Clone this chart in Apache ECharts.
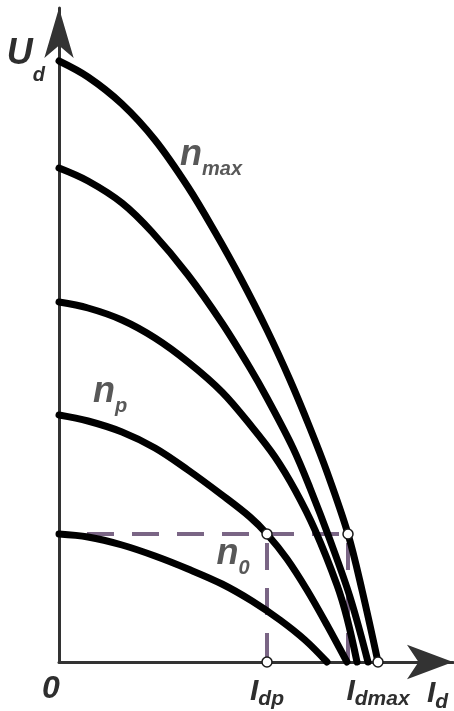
<!DOCTYPE html>
<html>
<head>
<meta charset="utf-8">
<script src="https://cdn.jsdelivr.net/npm/echarts@6/dist/echarts.min.js"></script>
<style>
  html, body { margin: 0; padding: 0; background: #fff; }
  #chart { width: 454px; height: 711px; }
</style>
</head>
<body>
<div id="chart"></div>
<script>
// curves U_d(I_d) (units: px from origin)
const nMaxX = [0, 29, 63, 96, 129, 156, 181, 208, 231, 251, 268, 289, 303, 319];
const nMaxY = [601, 585, 558, 522, 475, 430, 385, 332, 282, 234, 190, 128, 72, 0];
const n2X = [0, 29, 63, 93, 129, 163, 191, 208, 234, 251, 271, 291, 309];
const n2Y = [494, 481, 459, 430, 387, 339, 294, 264, 214, 174, 122, 65, 0];
const n3X = [0, 29, 63, 96, 129, 163, 193, 216, 236, 256, 278, 288, 298];
const n3Y = [360, 354, 342, 324, 300, 270, 235, 205, 172, 132, 77, 44, 0];
const nPX = [0, 29, 63, 96, 129, 163, 191, 208, 228, 248, 268, 288];
const nPY = [247, 241, 230, 214, 192, 167, 145, 128, 103, 72, 37, 0];
const n0X = [0, 29, 63, 96, 129, 163, 193, 221, 246, 268];
const n0Y = [128, 125, 117, 106, 93, 78, 61, 42, 22, 0];

// operating point
const Idp = 208;
const Idmax = 319;
const Up = 128;
const IcornerX = 289;

// x-axis tick labels
const xTicks = [0, Idp, Idmax];
const xTickNames = ['0', 'dp', 'dmax'];

// curve labels
const curveSubs = ['max', 'p', '0'];
const curveLabelX = [152, 51, 174];
const curveLabelY = [507, 270, 108];

const zip = (xs, ys) => xs.map((x, i) => [x, ys[i]]);

const font = { fontFamily: 'Liberation Sans', fontWeight: 'bold', fontStyle: 'italic', color: '#2e2e2e' };
// every token is top aligned; padTop pushes a subscript down
const tok = (size, lh, padTop, extra) => Object.assign({}, font, {
  fontSize: size, lineHeight: lh, verticalAlign: 'top', padding: [padTop || 0, 0, 0, 0]
}, extra || {});

const curveStyle = { color: '#000', width: 7, cap: 'round', join: 'round' };
const dashStyle = { color: '#7a6585', width: 4, type: [27, 18] };

function curve(name, xs, ys) {
  return {
    name: name, type: 'line', data: zip(xs, ys),
    smooth: 0.35, showSymbol: false, clip: false, silent: true,
    lineStyle: curveStyle, z: 3
  };
}

function dashed(pts, offset) {
  return {
    type: 'line', data: pts, showSymbol: false, clip: false, silent: true,
    lineStyle: Object.assign({}, dashStyle, { dashOffset: offset }), z: 2
  };
}

const chart = echarts.init(document.getElementById('chart'));
chart.setOption({
  animation: false,
  grid: { left: 59, right: 1, top: 8, bottom: 49, containLabel: false, outerBoundsMode: 'none' },
  xAxis: {
    type: 'value', min: 0, max: 394,
    splitLine: { show: false },
    axisTick: { show: false },
    axisLine: { lineStyle: { color: '#333', width: 3 }, symbol: ['none', 'arrow'], symbolSize: [26, 46] },
    axisLabel: {
      customValues: xTicks,
      margin: 11,
      formatter: function (v) {
        const i = xTicks.indexOf(v);
        if (i === 0) return '{z|0}';
        return '{I|I}{s|' + xTickNames[i] + '}';
      },
      rich: {
        z: Object.assign(tok(32, 30), { padding: [0, 16, 0, 0] }),
        I: tok(30, 30, 4),
        s: tok(21, 30, 16)
      }
    },
    name: '{I|I}{s|d}',
    nameLocation: 'end',
    nameGap: -26,
    nameTextStyle: {
      align: 'left', verticalAlign: 'top', padding: [17, 0, 0, 0],
      rich: { I: tok(30, 30), s: tok(21, 30, 13) }
    }
  },
  yAxis: {
    type: 'value', min: 0, max: 654,
    splitLine: { show: false },
    axisTick: { show: false },
    axisLabel: { show: false },
    axisLine: { lineStyle: { color: '#333', width: 3 }, symbol: ['none', 'arrow'], symbolSize: [22, 50] },
    name: '{U|U}{s|d}',
    nameLocation: 'end',
    nameGap: -28,
    nameTextStyle: {
      align: 'right', verticalAlign: 'top', padding: [0, 14, 0, 0],
      rich: { U: tok(36, 36), s: tok(20, 36, 29) }
    }
  },
  series: [
    dashed([[0, Up], [IcornerX, Up]], 17),
    dashed([[Idp, Up], [Idp, 0]], 36),
    dashed([[IcornerX, Up], [IcornerX, 0]], 36),
    curve('nmax', nMaxX, nMaxY),
    curve('n2', n2X, n2Y),
    curve('n3', n3X, n3Y),
    curve('np', nPX, nPY),
    curve('n0', n0X, n0Y),
    {
      type: 'scatter', silent: true, z: 5,
      data: [[Idp, Up], [IcornerX, Up], [Idp, 0], [Idmax, 0]],
      symbol: 'circle', symbolSize: 10,
      itemStyle: { color: '#fff', opacity: 1, borderColor: '#1a1a1a', borderWidth: 1.5 }
    },
    {
      type: 'scatter', silent: true, z: 6,
      data: curveSubs.map((s, i) => [curveLabelX[i], curveLabelY[i]]),
      symbolSize: 1,
      itemStyle: { color: 'rgba(0,0,0,0)' },
      label: {
        show: true, position: 'inside', align: 'center', verticalAlign: 'middle',
        formatter: function (p) { return '{n|n}{s|' + curveSubs[p.dataIndex] + '}'; },
        rich: { n: tok(36, 36), s: tok(20, 36, 22) }
      }
    }
  ]
});
</script>
</body>
</html>
